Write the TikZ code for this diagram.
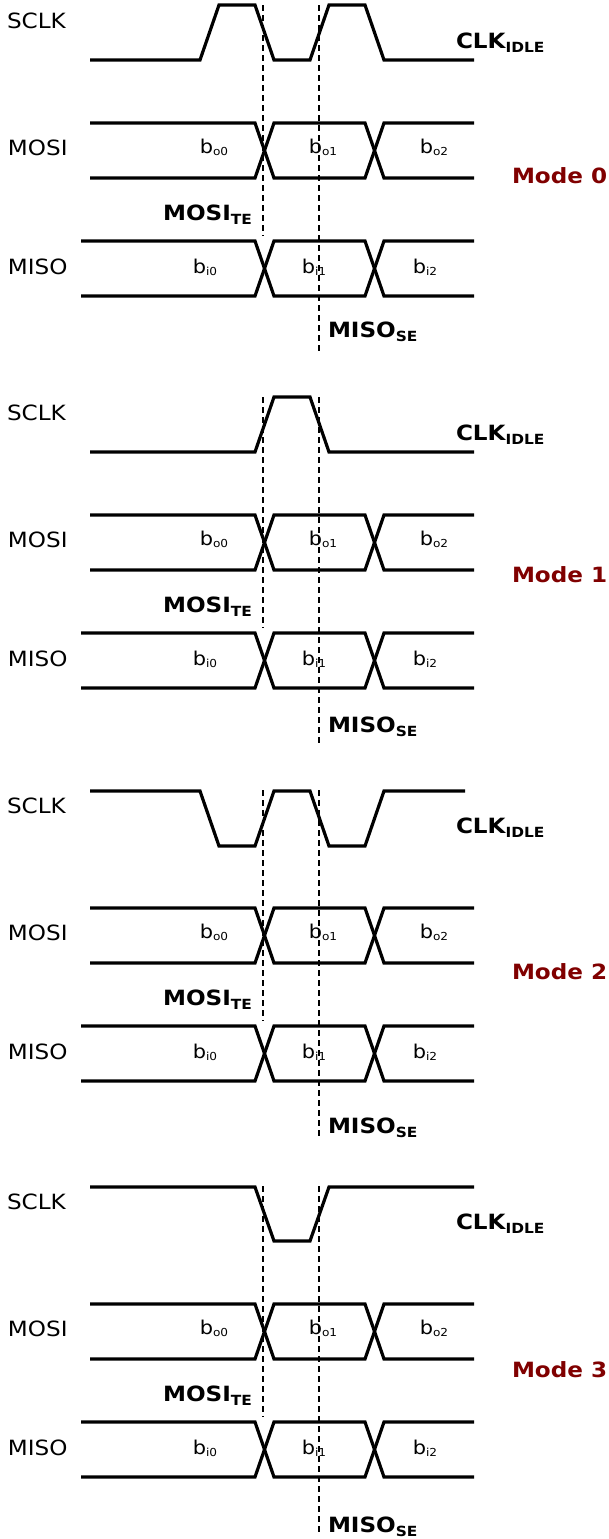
\documentclass[tikz,border=0pt]{standalone}
\usepackage{fontspec}
\setmainfont{DejaVu Sans}[FakeStretch=1.1]
\usetikzlibrary{positioning}
\definecolor{modered}{RGB}{128,0,0}
% lowered index: drop, size, text
\newcommand\idx[3]{\raisebox{-#1}{\fontsize{#2}{#2}\selectfont #3}}

\begin{document}
\begin{tikzpicture}[x=1pt, y=-1pt,
	every node/.style={inner sep=0pt, outer sep=0pt},
	wave/.style={line width=3.2pt},
	strobe/.style={line width=1.5pt, dash pattern=on 6pt off 4pt},
	sig/.style={anchor=base west, font=\fontsize{21}{24}\selectfont},
	bit/.style={anchor=base, font=\fontsize{19}{22}\selectfont},
	evt/.style={font=\bfseries\fontsize{21}{24}\selectfont},
	modetag/.style={anchor=base west, text=modered, font=\bfseries\fontsize{21}{24}\selectfont}]
	\useasboundingbox (0,0) rectangle (609,1539);

	% what the four modes share: MOSI/MISO buses, names, sample strobes
	\foreach \m/\dy/\my/\sy in {0/0/183/337, 1/392/190/340, 2/785/194/348, 3/1181/196/351}{
		\begin{scope}[shift={(0,\dy)}]
			\draw[wave] (90,123) -- (255,123) -- (274,178) -- (365,178) -- (384,123) -- (474,123);
			\draw[wave] (90,178) -- (255,178) -- (274,123) -- (365,123) -- (384,178) -- (474,178);
			\draw[wave] (81,241) -- (255,241) -- (274,296) -- (365,296) -- (384,241) -- (474,241);
			\draw[wave] (81,296) -- (255,296) -- (274,241) -- (365,241) -- (384,296) -- (474,296);

			\node[sig] (sclk-\m) at (7,28) {SCLK};
			\node[sig] (mosi-\m) at (8,155) {MOSI};
			\node[sig] (miso-\m) at (8,274) {MISO};
			\node[evt, anchor=base west] (idle-\m) at (456,48) {CLK\idx{4pt}{14}{IDLE}};

			\node[bit] (bo0-\m) at (214,153) {b\idx{2pt}{11}{o0}};
			\node[bit] (bo1-\m) at (323,153) {b\idx{2pt}{11}{o1}};
			\node[bit] (bo2-\m) at (434,153) {b\idx{2pt}{11}{o2}};
			\node[bit] (bi0-\m) at (205,273) {b\idx{2pt}{11}{i0}};
			\node[bit] (bi1-\m) at (314,273) {b\idx{2pt}{11}{i1}};
			\node[bit] (bi2-\m) at (425,273) {b\idx{2pt}{11}{i2}};

			\node[evt, anchor=base east] (te-\m) at (252,220) {MOSI\idx{4pt}{14}{TE}};
			\node[evt, anchor=base west] (se-\m) at (328,\sy) {MISO\idx{4pt}{14}{SE}};
			\node[modetag] (mode-\m) at (512,\my) {Mode \m};

			\coordinate (tetop-\m) at (263,5);
			\coordinate (tebot-\m) at (263,236);
			\coordinate (setop-\m) at (319,5);
			\coordinate (sebot-\m) at (319,354);
			\draw[strobe] (tetop-\m) -- (tebot-\m);
			\draw[strobe] (setop-\m) -- (sebot-\m);
		\end{scope}
	}

	% SCLK, mode 0: idles low
	\draw[wave] (90,60) -- (200,60) -- (219,5) -- (255,5) -- (274,60) -- (310,60) -- (329,5) -- (365,5) -- (384,60) -- (474,60);
	% mode 1: idles low
	\begin{scope}[shift={(0,392)}]
		\draw[wave] (90,60) -- (255,60) -- (274,5) -- (310,5) -- (329,60) -- (474,60);
	\end{scope}
	% mode 2: idles high
	\begin{scope}[shift={(0,785)}]
		\draw[wave] (90,6) -- (200,6) -- (219,61) -- (255,61) -- (274,6) -- (310,6) -- (329,61) -- (365,61) -- (384,6) -- (465,6);
	\end{scope}
	% mode 3: idles high
	\begin{scope}[shift={(0,1181)}]
		\draw[wave] (90,6) -- (255,6) -- (274,60) -- (310,60) -- (329,6) -- (474,6);
	\end{scope}
\end{tikzpicture}
\end{document}
